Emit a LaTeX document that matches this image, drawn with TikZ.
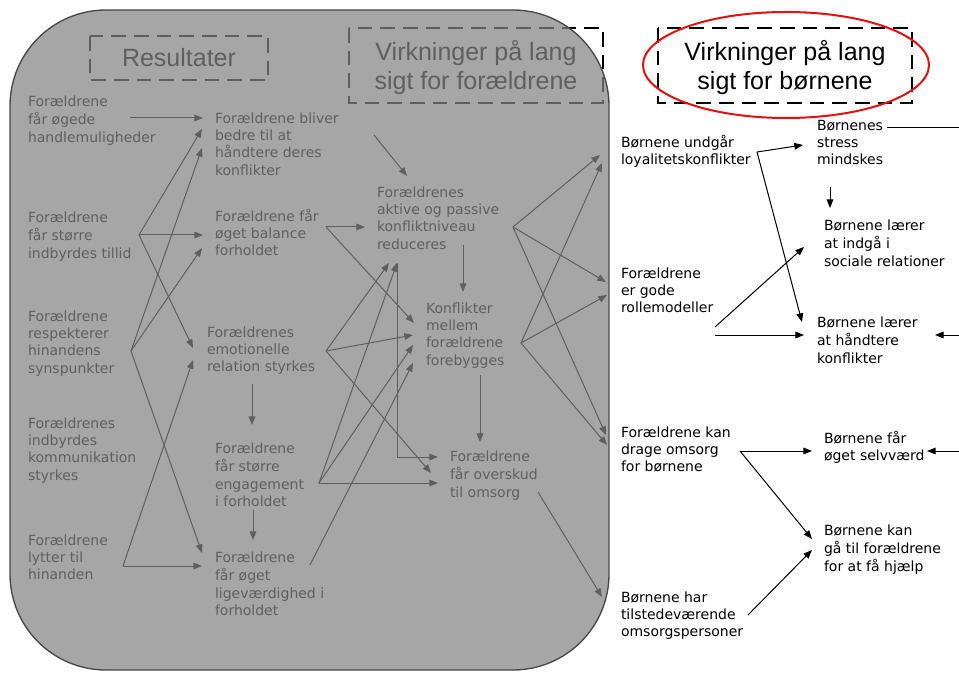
\documentclass[tikz,border=0pt]{standalone}
\usepackage{fontspec}
\setmainfont{DejaVu Sans}
\newfontfamily\titlefont{Liberation Sans}
\usetikzlibrary{arrows.meta}
\definecolor{boxfill}{RGB}{132,132,132}
\definecolor{boxedge}{RGB}{72,72,72}
\definecolor{ellred}{RGB}{228,16,16}
\begin{document}
\begin{tikzpicture}[x=0.75pt,y=-0.75pt,
  txt/.style={anchor=north west, align=left, inner sep=0pt, outer sep=0pt, font=\fontsize{10.5}{13}\selectfont},
  conn/.style={line width=0.75pt, -{Triangle[length=6.5pt,width=5pt]}},
  plain/.style={line width=0.75pt},
  dashbox/.style={draw, line width=1.5pt, dash pattern=on 11pt off 6pt},
  title/.style={font=\titlefont\fontsize{18.75}{21.75}\selectfont, align=center, inner sep=0pt}
]
\useasboundingbox (0,0) rectangle (959,673);
\fill[white] (0,0) rectangle (959,673);

% ---- titles
\node[title] (T1) at (179,58) {Resultater};
\node[title] (T2) at (476,68) {Virkninger på lang\\sigt for forældrene};
\node[title] (T3) at (785,68) {Virkninger på lang\\sigt for børnene};
\draw[dashbox] (90,36) rectangle (268,80);
\draw[dashbox] (349,28) rectangle (603,103);
\draw[dashbox] (658,28) rectangle (912,103);

% ---- left block texts
\node[txt] (L1) at (28,94)  {\strut Forældrene\\får øgede\\handlemuligheder};
\node[txt] (L2) at (28,210) {\strut Forældrene\\får større\\indbyrdes tillid};
\node[txt] (L3) at (28,309) {\strut Forældrene\\respekterer\\hinandens\\synspunkter};
\node[txt] (L4) at (28,416) {\strut Forældrenes\\indbyrdes\\kommunikation\\styrkes};
\node[txt] (L5) at (28,533) {\strut Forældrene\\lytter til\\hinanden};

\node[txt] (M1) at (215,111) {\strut Forældrene bliver\\bedre til at\\håndtere deres\\konflikter};
\node[txt] (M2) at (215,209) {\strut Forældrene får\\øget balance\\forholdet};
\node[txt] (M3) at (207,325) {\strut Forældrenes\\emotionelle\\relation styrkes};
\node[txt] (M4) at (215,441) {\strut Forældrene\\får større\\engagement\\i forholdet};
\node[txt] (M5) at (215,550) {\strut Forældrene\\får øget\\ligeværdighed i\\forholdet};

\node[txt] (N1) at (377,185) {\strut Forældrenes\\aktive og passive\\konfliktniveau\\reduceres};
\node[txt] (N2) at (426,301) {\strut Konflikter\\mellem\\forældrene\\forebygges};
\node[txt] (N3) at (450,449) {\strut Forældrene\\får overskud\\til omsorg};

% ---- coordinates (hubs and tips)
\coordinate (l1o) at (130,118);  \coordinate (m1a) at (203,118);
\coordinate (hA) at (139,235);
\coordinate (m1b) at (202,129);  \coordinate (m1c) at (202,148);
\coordinate (m2a) at (203,235);  \coordinate (m2b) at (202,248);
\coordinate (m3a) at (193,348);  \coordinate (m3b) at (193,360);
\coordinate (hB) at (131,351);
\coordinate (hC) at (123,566);
\coordinate (m5a) at (202,553);  \coordinate (m5b) at (202,566);
\coordinate (m3o) at (252,384);  \coordinate (m4i) at (252,425);
\coordinate (m4o) at (253,510);  \coordinate (m5i) at (253,540);
\coordinate (m1o) at (374,135);  \coordinate (n1a) at (407,176);
\coordinate (hD) at (326,227);   \coordinate (n1b) at (365,227);
\coordinate (n1c) at (389,263);  \coordinate (n1d) at (397,263);
\coordinate (n2a) at (414,323);  \coordinate (n2b) at (413,335);
\coordinate (n2c) at (413,345);  \coordinate (n2d) at (413,363);
\coordinate (n1o) at (463,245);  \coordinate (n2i) at (463,292);
\coordinate (n2o) at (480,375);  \coordinate (n3i) at (480,442);
\coordinate (hF) at (326,351);
\coordinate (hE) at (319,483);
\coordinate (hG) at (310,565);
\coordinate (n3a) at (438,457);  \coordinate (n3b) at (431,473);
\coordinate (n3c) at (438,483);
\coordinate (hH) at (513,227);
\coordinate (hI) at (521,343);
\coordinate (r1a) at (600,155);  \coordinate (r1b) at (602,163);
\coordinate (r2a) at (606,282);  \coordinate (r2b) at (607,295);
\coordinate (r3a) at (606,435);  \coordinate (r3b) at (607,445);
\coordinate (n3o) at (538,492);  \coordinate (r4i) at (602,597);

% ---- left block connectors
\draw[conn] (l1o) -- (m1a);
\draw[conn] (hA) -- (m1b);
\draw[conn] (hA) -- (m2a);
\draw[conn] (hA) -- (m3a);
\draw[conn] (hB) -- (m1c);
\draw[conn] (hB) -- (m2b);
\draw[conn] (hB) -- (m5a);
\draw[conn] (hC) -- (m5b);
\draw[conn] (hC) -- (m3b);
\draw[conn] (m3o) -- (m4i);
\draw[conn] (m4o) -- (m5i);
\draw[conn] (m1o) -- (n1a);
\draw[conn] (hD) -- (n1b);
\draw[conn] (hD) -- (n2a);
\draw[conn] (n1o) -- (n2i);
\draw[conn] (n2o) -- (n3i);
\draw[conn] (hF) -- (n1c);
\draw[conn] (hF) -- (n2b);
\draw[conn] (hF) -- (n3b);
\draw[conn] (hE) -- (n1d);
\draw[conn] (hE) -- (n2c);
\draw[conn] (hE) -- (n3c);
\draw[conn] (hG) -- (n2d);
\draw[conn] (n1d) |- (n3a);
\draw[conn] (hH) -- (r1a);
\draw[conn] (hH) -- (r2a);
\draw[conn] (hH) -- (r3a);
\draw[conn] (hI) -- (r1b);
\draw[conn] (hI) -- (r2b);
\draw[conn] (hI) -- (r3b);
\draw[conn] (n3o) -- (r4i);

% ---- translucent grey panel
\draw[draw=boxedge, line width=1pt, fill=boxfill, fill opacity=0.72, rounded corners=72pt]
  (10,10) rectangle (609,670);

% ---- right side
\node[txt] (R1) at (621,135) {\strut Børnene undgår\\loyalitetskonflikter};
\node[txt] (R2) at (621,266) {\strut Forældrene\\er gode\\rollemodeller};
\node[txt] (R3) at (621,425) {\strut Forældrene kan\\drage omsorg\\for børnene};
\node[txt] (R4) at (621,590) {\strut Børnene har\\tilstedeværende\\omsorgspersoner};

\node[txt] (S1) at (817,118) {\strut Børnenes\\stress\\mindskes};
\node[txt] (S2) at (824,218) {\strut Børnene lærer\\at indgå i\\sociale relationer};
\node[txt] (S3) at (817,315) {\strut Børnene lærer\\at håndtere\\konflikter};
\node[txt] (S4) at (824,431) {\strut Børnene får\\øget selvværd};
\node[txt] (S5) at (824,523) {\strut Børnene kan\\gå til forældrene\\for at få hjælp};

\coordinate (hR1) at (757,152);
\coordinate (s1a) at (803,145);
\coordinate (s3a) at (802,322);
\coordinate (s1o) at (830,187);  \coordinate (s2i) at (830,208);
\coordinate (s1r) at (887,128);  \coordinate (edgeA) at (959,128);
\coordinate (r2o1) at (715,327); \coordinate (s2a) at (804,247);
\coordinate (r2o2) at (715,335); \coordinate (s3b) at (804,335);
\coordinate (edgeB) at (959,335); \coordinate (s3c) at (935,335);
\coordinate (hR3) at (740,451);
\coordinate (s4a) at (812,451);
\coordinate (s5a) at (812,539);
\coordinate (edgeC) at (959,451); \coordinate (s4b) at (927,451);
\coordinate (r4o) at (748,615);  \coordinate (s5b) at (812,550);

\draw[conn] (hR1) -- (s1a);
\draw[conn] (hR1) -- (s3a);
\draw[conn] (s1o) -- (s2i);
\draw[plain] (s1r) -- (edgeA);
\draw[conn] (r2o1) -- (s2a);
\draw[conn] (r2o2) -- (s3b);
\draw[conn] (edgeB) -- (s3c);
\draw[conn] (hR3) -- (s4a);
\draw[conn] (hR3) -- (s5a);
\draw[conn] (edgeC) -- (s4b);
\draw[conn] (r4o) -- (s5b);

% ---- red ellipse
\draw[ellred, line width=1.5pt] (786,65) ellipse [x radius=143, y radius=53];
\end{tikzpicture}
\end{document}
